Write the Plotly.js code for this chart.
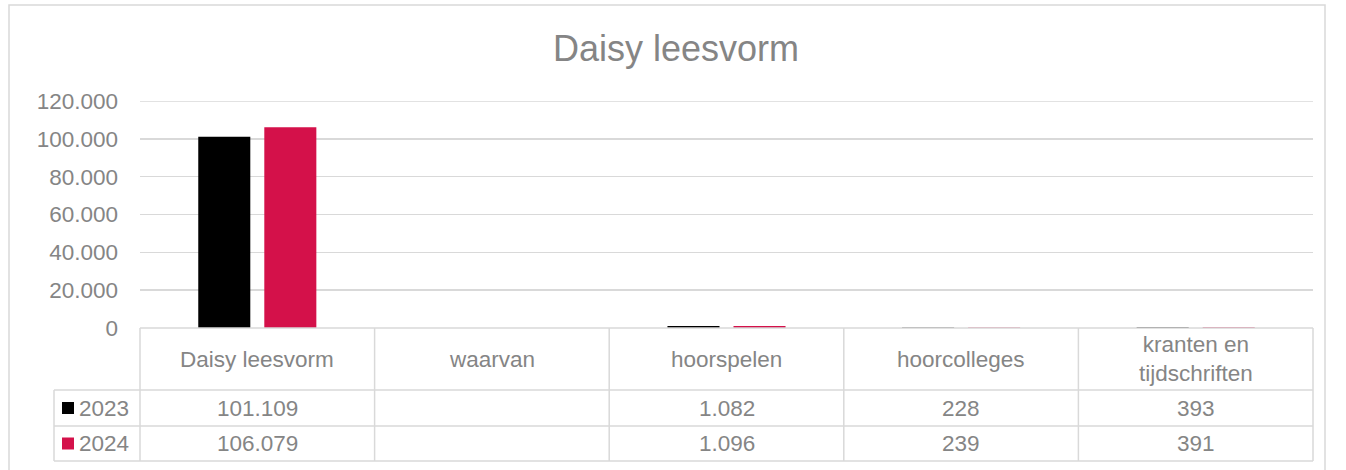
<!DOCTYPE html>
<html>
<head>
<meta charset="utf-8">
<script src="https://cdn.plot.ly/plotly-3.0.1.min.js"></script>
<style>
  html, body { margin: 0; padding: 0; background: #ffffff; }
  #chart { width: 1346px; height: 470px; }
</style>
</head>
<body>
<div id="chart"></div>
<script>
// ---- data ----
const chartTitle = 'Daisy leesvorm';
const categories = ['Daisy leesvorm', 'waarvan', 'hoorspelen', 'hoorcolleges', 'kranten en<br>tijdschriften'];
const seriesNames = ['2023', '2024'];
const values2023 = [101109, null, 1082, 228, 393];
const values2024 = [106079, null, 1096, 239, 391];
const yTickValues = [0, 20000, 40000, 60000, 80000, 100000, 120000];

// ---- style ----
const seriesColors = ['#000000', '#d4114a'];
const textColor = '#858585';
const lineColor = '#d9d9d9';
const fontFamily = '"Liberation Sans", Arial, sans-serif';
const smallSize = 22.5;
const W = 1346, H = 470;
const plotLeft = 140, plotRight = 1313, plotTop = 101, plotBottom = 328;
const plotH = plotBottom - plotTop, plotW = plotRight - plotLeft;
const rowLines = [328, 390, 426, 461];
const legendLeft = 54;
const py = Y => (plotBottom - Y) / plotH;
const px = X => (X - plotLeft) / plotW;

function fmt(v) {
  if (v === null || v === undefined) return '';
  return String(v).replace(/\B(?=(\d{3})+(?!\d))/g, '.');
}

const allSeries = [values2023, values2024];
const traces = allSeries.map((vals, i) => ({
  type: 'bar',
  name: seriesNames[i],
  x: categories,
  y: vals,
  marker: { color: seriesColors[i], line: { width: 0 } },
  hoverinfo: 'x+y'
}));

const shapes = [];
const annotations = [];

// outer chart frame
shapes.push({ type: 'rect', xref: 'paper', yref: 'paper',
  x0: px(9), x1: px(1325), y0: py(5), y1: py(490),
  line: { color: lineColor, width: 1.5 }, fillcolor: 'rgba(0,0,0,0)', layer: 'below' });

// top gridline (at the range end)
shapes.push({ type: 'line', xref: 'paper', yref: 'y', x0: 0, x1: 1,
  y0: yTickValues[yTickValues.length - 1], y1: yTickValues[yTickValues.length - 1],
  line: { color: lineColor, width: 1.5 }, layer: 'below' });

// table: horizontal lines
shapes.push({ type: 'line', xref: 'paper', yref: 'paper', x0: 0, x1: 1, y0: py(rowLines[0]), y1: py(rowLines[0]),
  line: { color: lineColor, width: 1.5 } });
for (let r = 1; r < rowLines.length; r++) {
  shapes.push({ type: 'line', xref: 'paper', yref: 'paper', x0: px(legendLeft), x1: 1,
    y0: py(rowLines[r]), y1: py(rowLines[r]), line: { color: lineColor, width: 1.5 } });
}
// table: vertical lines
shapes.push({ type: 'line', xref: 'paper', yref: 'paper', x0: px(legendLeft), x1: px(legendLeft),
  y0: py(rowLines[1]), y1: py(rowLines[3]), line: { color: lineColor, width: 1.5 } });
shapes.push({ type: 'line', xref: 'paper', yref: 'paper', x0: 0, x1: 0,
  y0: py(rowLines[0]), y1: py(rowLines[3]), line: { color: lineColor, width: 1.5 } });
shapes.push({ type: 'line', xref: 'paper', yref: 'paper', x0: 1, x1: 1,
  y0: py(rowLines[0]), y1: py(rowLines[3]), line: { color: lineColor, width: 1.5 } });
for (let i = 1; i < categories.length; i++) {
  shapes.push({ type: 'line', xref: 'x', yref: 'paper', x0: i - 0.5, x1: i - 0.5,
    y0: py(rowLines[0]), y1: py(rowLines[3]), line: { color: lineColor, width: 1.5 } });
}

// header labels
categories.forEach((c, i) => {
  annotations.push({ xref: 'x', yref: 'paper', x: c, y: py((rowLines[0] + rowLines[1]) / 2),
    text: c, showarrow: false, xanchor: 'center', yanchor: 'middle',
    font: { family: fontFamily, size: smallSize, color: textColor } });
});

// value rows + legend keys
allSeries.forEach((vals, s) => {
  const yTop = rowLines[s + 1], yBot = rowLines[s + 2];
  const yMid = (yTop + yBot) / 2;
  vals.forEach((v, i) => {
    annotations.push({ xref: 'x', yref: 'paper', x: categories[i], y: py(yMid),
      text: fmt(v), showarrow: false, xanchor: 'center', yanchor: 'middle',
      font: { family: fontFamily, size: smallSize, color: textColor } });
  });
  shapes.push({ type: 'rect', xref: 'paper', yref: 'paper',
    x0: px(62), x1: px(74), y0: py(yMid - 6), y1: py(yMid + 6),
    fillcolor: seriesColors[s], line: { width: 0 } });
  annotations.push({ xref: 'paper', yref: 'paper', x: px(77), y: py(yMid),
    text: seriesNames[s], showarrow: false, xanchor: 'left', yanchor: 'middle',
    font: { family: fontFamily, size: smallSize, color: textColor } });
});

const layout = {
  width: W, height: H,
  margin: { l: plotLeft, r: W - plotRight, t: plotTop, b: H - plotBottom, pad: 0 },
  paper_bgcolor: '#ffffff', plot_bgcolor: '#ffffff',
  separators: ',.',
  showlegend: false,
  barmode: 'group',
  bargap: 0.437,
  bargroupgap: 0.212,
  title: { text: chartTitle, x: 676 / W, xanchor: 'center', xref: 'container',
    y: 1 - 48 / H, yanchor: 'middle', yref: 'container',
    font: { family: fontFamily, size: 36, color: textColor } },
  xaxis: { type: 'category', showticklabels: false, showgrid: false, zeroline: false,
    showline: false, ticks: '', range: [-0.5, categories.length - 0.5], fixedrange: true },
  yaxis: { range: [0, 120000], tickvals: yTickValues, tickformat: ',d',
    showgrid: true, gridcolor: lineColor, gridwidth: 1.5, zeroline: false, showline: false,
    ticks: '', ticklabelstandoff: 21,
    tickfont: { family: fontFamily, size: smallSize, color: textColor }, fixedrange: true },
  shapes: shapes,
  annotations: annotations
};

Plotly.newPlot('chart', traces, layout, { displayModeBar: false, staticPlot: true });
</script>
</body>
</html>
